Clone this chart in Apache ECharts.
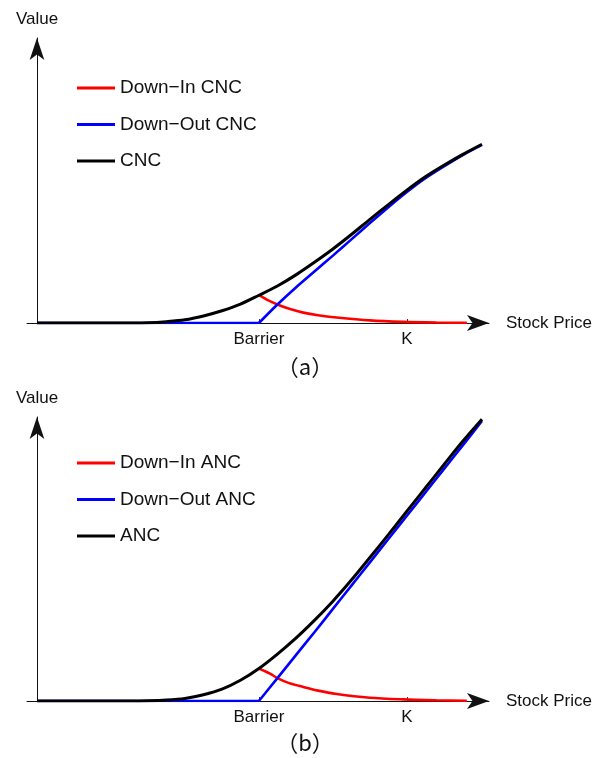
<!DOCTYPE html>
<html>
<head>
<meta charset="utf-8">
<script src="https://cdn.jsdelivr.net/npm/echarts@6/dist/echarts.min.js"></script>
<style>
  html, body { margin: 0; padding: 0; background: #fff; }
  #myChart { width: 596px; height: 758px; }
</style>
</head>
<body>
<div id="myChart"></div>
<script>
// 坐标轴上的刻度
const tickPrices = [60, 100];
const tickNames = ['Barrier', 'K'];

// (a) CNC
const cncPrice = [0, 25, 30, 35, 40, 45, 50, 55, 60, 65, 70, 75, 80, 85, 90, 95, 100, 105, 110, 115, 120.3];
const cncValue = [0, 0, 0.05, 0.35, 0.85, 1.9, 3.3, 5.1, 7.5, 10.0, 13.0, 16.4, 20.0, 23.9, 28.0, 32.0, 35.9, 39.5, 42.6, 45.5, 48.3];
const docFlatPrice = [0, 60];
const docFlatValue = [0, 0];
const docPrice = [60, 65, 70, 75, 80, 85, 90, 95, 100, 105, 110, 115, 120.3];
const docValue = [0, 5.0, 9.6, 13.9, 18.2, 22.6, 27.0, 31.3, 35.4, 39.1, 42.3, 45.3, 48.1];
const dicPrice = [60, 62, 65, 68, 72, 76, 81, 90, 99, 108, 116.2];
const dicValue = [7.5, 6.4, 5.0, 3.9, 2.8, 2.1, 1.5, 0.7, 0.3, 0.12, 0.05];

// (b) ANC
const ancPrice = [0, 25, 30, 35, 40, 45, 50, 55, 60, 65, 70, 75, 80, 85, 90, 95, 100, 105, 110, 115, 120.3];
const ancValue = [0, 0, 0.05, 0.25, 0.7, 1.7, 3.2, 5.6, 8.8, 12.7, 17.0, 21.8, 27.0, 32.7, 38.8, 45.0, 51.3, 57.6, 63.9, 70.1, 76.2];
const daoFlatPrice = [0, 60];
const daoFlatValue = [0, 0];
const daoPrice = [60, 65, 70, 75, 80, 85, 90, 95, 100, 105, 110, 115, 120.3];
const daoValue = [0, 6.2, 12.4, 18.6, 24.9, 31.2, 37.5, 43.8, 50.1, 56.4, 62.7, 69.0, 75.7];
const daiPrice = [60, 63, 65, 68, 72, 76, 81, 90, 99, 108, 116.2];
const daiValue = [8.8, 7.4, 6.2, 4.9, 3.8, 2.8, 1.9, 0.9, 0.45, 0.2, 0.05];

const fontFamily = '"Liberation Sans", Arial, sans-serif';
const zip = (xs, ys) => xs.map((x, i) => [x, ys[i]]);

const xAxisOf = (gridIndex) => ({
  gridIndex,
  type: 'value',
  min: -2.7,
  max: 122.2,
  name: 'Stock Price',
  nameLocation: 'end',
  nameGap: 17,
  nameTextStyle: { fontSize: 17, color: '#111', fontFamily },
  axisLine: {
    show: true,
    symbol: ['none', 'arrow'],
    symbolSize: [12, 22],
    lineStyle: { color: '#111', width: 1 }
  },
  axisTick: { show: true, inside: true, length: 4, customValues: tickPrices, lineStyle: { color: '#333' } },
  axisLabel: {
    customValues: tickPrices,
    formatter: (v) => tickNames[tickPrices.indexOf(v)] || '',
    margin: 8,
    fontSize: 17,
    color: '#111',
    fontFamily
  },
  splitLine: { show: false }
});

const yAxisOf = (gridIndex, max) => ({
  gridIndex,
  type: 'value',
  min: 0,
  max,
  name: 'Value',
  nameLocation: 'end',
  nameGap: 10,
  nameTextStyle: { fontSize: 17, color: '#111', fontFamily, align: 'center' },
  axisLine: {
    show: true,
    onZero: true,
    symbol: ['none', 'arrow'],
    symbolSize: [11, 22],
    lineStyle: { color: '#111', width: 1 }
  },
  axisTick: { show: false },
  axisLabel: { show: false },
  splitLine: { show: false }
});

const lineOf = (name, idx, data, color, width, smooth) => ({
  name,
  type: 'line',
  xAxisIndex: idx,
  yAxisIndex: idx,
  data,
  smooth,
  symbol: 'none',
  showSymbol: false,
  lineStyle: { color, width },
  itemStyle: { color }
});

const legendOf = (top, names) => ({
  orient: 'vertical',
  left: 72,
  top,
  icon: 'rect',
  itemWidth: 38,
  itemHeight: 3,
  itemGap: 16.5,
  selectedMode: false,
  data: names,
  textStyle: { fontSize: 19, color: '#111', fontFamily, lineHeight: 20 }
});

const option = {
  animation: false,
  backgroundColor: '#fff',
  grid: [
    { left: 27, right: 107, top: 38, height: 285 },
    { left: 27, right: 107, top: 417, height: 284 }
  ],
  xAxis: [xAxisOf(0), xAxisOf(1)],
  yAxis: [yAxisOf(0, 77.0), yAxisOf(1, 76.8)],
  legend: [
    legendOf(73, ['Down−In CNC', 'Down−Out CNC', 'CNC']),
    legendOf(448, ['Down−In ANC', 'Down−Out ANC', 'ANC'])
  ],
  series: [
    lineOf('Down−In CNC', 0, zip(dicPrice, dicValue), '#ff0000', 2.6, 0.3),
    lineOf('Down−Out CNC', 0, zip(docFlatPrice, docFlatValue), '#0000ff', 2.6, false),
    lineOf('Down−Out CNC', 0, zip(docPrice, docValue), '#0000ff', 2.6, 0.3),
    lineOf('CNC', 0, zip(cncPrice, cncValue), '#000000', 3, 0.3),

    lineOf('Down−In ANC', 1, zip(daiPrice, daiValue), '#ff0000', 2.6, 0.3),
    lineOf('Down−Out ANC', 1, zip(daoFlatPrice, daoFlatValue), '#0000ff', 2.6, false),
    lineOf('Down−Out ANC', 1, zip(daoPrice, daoValue), '#0000ff', 2.6, 0.3),
    lineOf('ANC', 1, zip(ancPrice, ancValue), '#000000', 3, 0.3)
  ],
  // 图注 (a) (b)
  graphic: [
    { type: 'text', style: { text: '（a）', x: 305, y: 367, align: 'center', verticalAlign: 'middle', fontSize: 22, fontFamily: '"Noto Sans CJK SC"', fill: '#111' } },
    { type: 'text', style: { text: '（b）', x: 305, y: 743, align: 'center', verticalAlign: 'middle', fontSize: 22, fontFamily: '"Noto Sans CJK SC"', fill: '#111' } }
  ]
};

const myChart = echarts.init(document.getElementById('myChart'));
myChart.setOption(option);
</script>
</body>
</html>
